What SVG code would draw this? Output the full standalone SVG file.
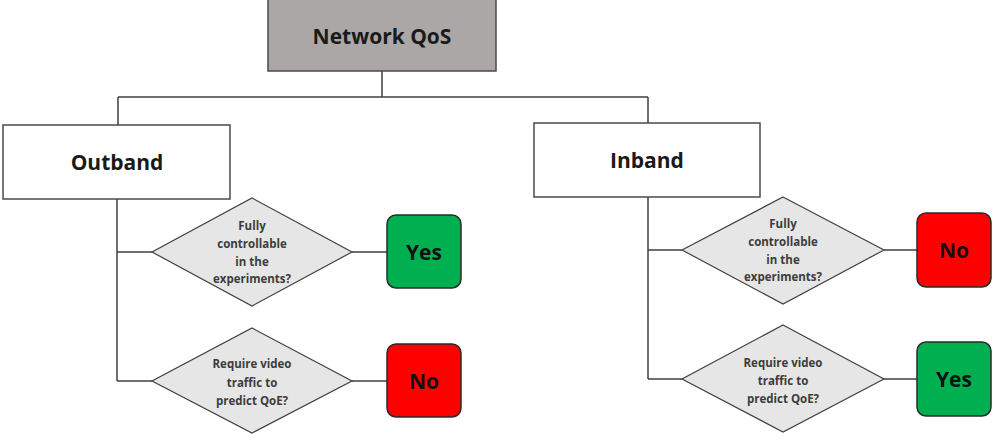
<svg xmlns="http://www.w3.org/2000/svg" width="1005" height="442" viewBox="0 0 1005 442">
<style>
.box{fill:#ffffff;stroke:#4a4a4a;stroke-width:1.5}
.root{fill:#aca7a7;stroke:#4a4a4a;stroke-width:1.5}
.dia{fill:#e6e6e6;stroke:#404040;stroke-width:1.2}
.yes{fill:#00b050;stroke:#2a2a2a;stroke-width:1.5}
.no{fill:#ff0000;stroke:#2a2a2a;stroke-width:1.5}
.con{fill:none;stroke:#404040;stroke-width:1.5}
text{font-family:"Open Sans","Liberation Sans",sans-serif;font-weight:700;text-anchor:middle;dominant-baseline:central}
.big{font-size:21px;fill:#1a1a1a}
.ans{font-size:21px;fill:#111}
.q{font-size:11.5px;fill:#3c3c3c}
</style>
<g id="connectors">
<path class="con" d="M382,71 V97 M118,97 H648 M118,97 V125 M648,97 V123"/>
<path class="con" d="M117,199 V381 M117,252 H152 M117,381 H152 M352,252 H387 M352,381 H387"/>
<path class="con" d="M648,197 V379 M648,250 H682 M648,379 H682 M884,250 H917 M884,379 H917"/>
</g>
<g id="network-qos"><rect class="root" x="268" y="-2" width="228" height="73"/><text class="big" x="382" y="36">Network QoS</text></g>
<g id="outband"><rect class="box" x="3" y="125" width="227" height="74"/><text class="big" x="117" y="162">Outband</text></g>
<g id="inband"><rect class="box" x="534" y="123" width="226" height="74"/><text class="big" x="647" y="160">Inband</text></g>
<g id="q-out-1"><polygon class="dia" points="252,198 352,252 252,306 152,252"/>
<text class="q" x="252" y="225">Fully</text><text class="q" x="252" y="243">controllable</text><text class="q" x="252" y="261">in the</text><text class="q" x="252" y="278">experiments?</text></g>
<g id="a-out-1"><rect class="yes" x="387" y="215" width="74" height="73" rx="9"/><text class="ans" x="424" y="252">Yes</text></g>
<g id="q-out-2"><polygon class="dia" points="252,328 352,381 252,433 152,381"/>
<text class="q" x="252" y="363">Require video</text><text class="q" x="252" y="382">traffic to</text><text class="q" x="252" y="400">predict QoE?</text></g>
<g id="a-out-2"><rect class="no" x="387" y="344" width="74" height="73" rx="9"/><text class="ans" x="424" y="381">No</text></g>
<g id="q-in-1"><polygon class="dia" points="783,197 884,250 783,304 682,250"/>
<text class="q" x="783" y="223">Fully</text><text class="q" x="783" y="241">controllable</text><text class="q" x="783" y="259">in the</text><text class="q" x="783" y="276">experiments?</text></g>
<g id="a-in-1"><rect class="no" x="917" y="213" width="74" height="74" rx="9"/><text class="ans" x="954" y="250">No</text></g>
<g id="q-in-2"><polygon class="dia" points="783,325 884,379 783,432 682,379"/>
<text class="q" x="783" y="362">Require video</text><text class="q" x="783" y="380">traffic to</text><text class="q" x="783" y="398">predict QoE?</text></g>
<g id="a-in-2"><rect class="yes" x="917" y="342" width="74" height="74" rx="9"/><text class="ans" x="954" y="379">Yes</text></g>
</svg>
